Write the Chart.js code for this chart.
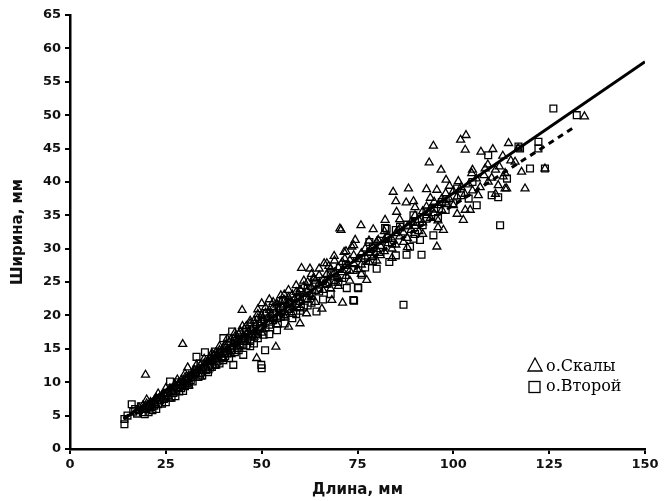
<!DOCTYPE html>
<html>
<head>
<meta charset="utf-8">
<script src="https://cdn.jsdelivr.net/npm/chart.js@4.4.1/dist/chart.umd.min.js"></script>
<style>
  html, body { margin: 0; padding: 0; background: #fff; }
  #wrap { width: 671px; height: 501px; }
</style>
</head>
<body>
<div id="wrap"><canvas id="c" width="671" height="501"></canvas></div>
<script>
const seriesNames = ["о.Скалы", "о.Второй"];

// о.Скалы (triangles), [length, width]
const skalyPoints = [
  [18,6.2],[19,6.5],[19.5,6.0],[19.7,11.1],[20,6.8],[20.5,6.3],[21,7.0],[21.5,6.6],[22,7.3],[22,6.9],
  [22.5,7.6],[23,7.1],[23.5,7.8],[24,7.4],[24,8.0],[24.5,8.3],[25,7.9],[25.5,8.6],[26,8.2],[26,9.0],
  [26.5,8.7],[27,9.3],[27,8.5],[27.5,9.6],[28,9.1],[28.5,9.9],[29,9.4],[29.4,15.7],[29,10.3],[29.5,10.0],
  [30,10.7],[30,9.8],[30.5,10.4],[30.7,12.2],[31,11.0],[31.5,10.6],[32,11.4],[32,10.9],[32.5,11.8],[33,11.2],
  [33.5,12.1],[34,11.7],[34,12.5],[34.5,12.0],[35,12.8],[35.5,12.3],[36,13.2],[36,12.6],[36.5,13.6],[37,13.0],
  [37.5,14.0],[38,13.4],[38,14.4],[38.5,13.8],[39,14.8],[39.5,14.2],[40,15.2],[40,14.5],[40.5,15.6],[41,14.9],
  [41.5,16.0],[42,15.3],[42,16.4],[42.5,15.7],[43,16.8],[43.5,16.1],[44,17.2],[44,16.4],[44.5,17.6],[44.9,20.8],
  [45,16.8],[45.5,18.0],[46,17.2],[46,18.4],[46.5,17.6],[47,18.8],[47.5,18.0],[48,19.2],[48,17.5],[48.5,18.5],
  [48.7,13.6],[49,19.6],[49,20.9],[49.5,18.8],[50,20.0],[50,21.8],[50,18.2],[50.5,19.3],[51,20.4],[51.5,19.6],
  [52,20.8],[52,22.4],[52,18.9],[52.5,20.1],[53,21.2],[53.5,20.4],[53.7,15.3],[53.9,21.8],[54,21.6],[54,19.8],
  [54.5,20.9],[55,22.0],[55.5,21.2],[55.9,23.1],[56,22.3],[56,20.5],[56.5,21.6],[57,22.7],[57,20.8],[57,18.3],
  [57.5,21.9],[58,23.1],[58,21.2],[58.5,22.4],[59,23.5],[59.5,22.7],[59.6,23.3],[60,23.9],[60,22.0],[60,18.8],
  [60.4,27.1],[61,23.2],[61,24.4],[61.7,20.3],[62,23.7],[62,25.0],[62.6,27.0],[63,24.2],[63,22.8],[63.5,25.6],
  [63.7,25.5],[64,25.2],[64,23.6],[65,24.8],[65,26.0],[65.7,21.0],[66,25.3],[66,23.8],[66.3,27.8],[67,26.2],
  [67,24.6],[67.5,27.4],[68,25.8],[68,27.0],[68.3,22.3],[68.9,28.9],[69,26.4],[69,24.9],[70,27.2],[70,25.6],
  [70.4,33.0],[70.7,32.8],[71,26.8],[71,28.0],[71.1,21.9],[71.5,29.5],[71.7,28.5],[72,27.4],[72,25.9],[73,28.3],
  [73,26.7],[73.5,30.3],[74,27.8],[74,29.0],[74.4,31.3],[75,28.4],[75,26.9],[75.9,33.5],[76,29.3],[76,27.6],
  [77,28.8],[77,30.0],[77.4,25.3],[78,29.4],[78,28.0],[78.3,29.8],[79,30.3],[79,28.7],[79.1,32.9],[80,29.9],
  [80,31.0],[80.4,31.3],[81,30.4],[81,29.0],[82,31.3],[82,29.6],[82.2,34.3],[83,30.8],[83,32.0],[84,31.4],
  [84,30.0],[84.3,38.5],[85,32.3],[85,30.6],[85,37.1],[85.2,35.5],[86,31.8],[86,33.0],[87,32.4],[87,31.0],
  [87.7,36.9],[88,33.3],[88,31.6],[88.3,39.0],[89,32.8],[89,34.0],[89.6,37.1],[90,33.4],[90,35.0],[91,34.3],
  [91,32.6],[92,35.6],[92,33.9],[93,35.0],[93,36.3],[93,38.9],[93.7,42.9],[94,34.6],[94,36.0],[94.8,45.4],
  [95,37.0],[95,35.3],[95.7,38.8],[95.7,30.3],[96,36.5],[96,34.2],[96.8,41.8],[97,37.5],[97,35.8],[97.4,32.8],
  [98,36.9],[98,38.3],[98.1,40.3],[99,37.4],[100,38.6],[100,36.5],[101,37.8],[101.3,40.1],[101.9,46.3],[102,39.2],
  [102.6,34.3],[103,38.2],[103.1,44.8],[103.1,35.8],[103.3,47.0],[104,39.6],[104.4,35.8],[104.8,41.3],[105,38.7],[106,40.5],
  [106.5,38.0],[107,39.2],[107.2,44.5],[108,41.0],[108.3,42.0],[109.1,40.0],[110,40.6],[110.3,44.9],[111,41.8],[111.7,39.5],
  [112,42.3],[112.9,43.9],[113,40.8],[113.5,41.3],[113.5,39.0],[113.9,39.0],[114.4,45.8],[115,43.2],[116.1,43.0],[116.9,45.0],
  [117.8,41.5],[118.7,39.0],[123.9,42.0],[134.2,49.8],
  [20,7.4],[21,6.1],[23,8.3],[25,9.1],[26,7.5],[28,10.4],[30,11.3],[31,9.5],[33,12.6],[34,10.8],
  [35,13.5],[36,11.8],[37,14.3],[38,12.5],[39,15.4],[40,13.6],[41,16.5],[42,14.2],[43,17.4],[44,15.2],
  [45,18.4],[46,16.0],[47,19.2],[48,16.8],[49,20.2],[50,17.4],[51,21.2],[52,19.5],[53,22.0],[54,18.6],
  [55,23.0],[56,19.8],[57,23.8],[58,20.2],[59,24.5],[60,21.2],[61,25.2],[62,22.4],[63,26.2],[64,22.0],
  [65,27.0],[66,24.6],[67,27.8],[68,24.0],[69,28.2],[70,24.4],[72,29.6],[73,25.2],[74,30.5],[76,26.2],
  [78,31.2],[80,28.2],[82,32.6],[84,28.6],[86,34.4],[88,30.2],[90,36.2],[92,32.2],[94,37.6],[96,33.2],
  [99,39.4],[101,35.2],[105,41.8],[109,42.6],[111,38.2]
];

// о.Второй (squares), [length, width]
const vtoroyPoints = [
  [14.2,3.7],[14.2,4.5],[15,5.0],[16.1,6.7],[16.5,5.6],[17,6.0],[17.5,5.3],[18,5.8],[18.5,6.4],[19,5.5],
  [19.5,5.2],[20,6.0],[20.5,5.5],[21,6.3],[21.5,5.8],[22,6.5],[22.5,6.0],[23,6.7],[23.5,7.3],[24,6.8],
  [24.5,7.5],[25,7.0],[25.5,8.0],[26.1,10.1],[26.5,7.7],[27,8.4],[27.5,7.9],[28,10.0],[28.5,8.6],[29,9.1],
  [29.5,8.7],[30,9.4],[30.5,9.9],[31,9.6],[31.5,10.3],[32,10.1],[32.5,11.5],[33,13.8],[33.5,10.8],[34,11.3],
  [34.5,11.0],[35.2,14.5],[35.5,11.8],[36,11.5],[36.5,12.2],[37,13.5],[37.8,14.6],[38,12.6],[38.5,13.1],[39,12.8],
  [39.5,13.6],[40,16.6],[40.5,13.9],[41,14.3],[41.5,13.6],[42.3,17.6],[42.6,12.6],[43,14.5],[43.5,15.1],[44,14.8],
  [44.5,15.6],[45.2,14.1],[45.5,16.2],[46,15.5],[46.5,16.8],[47,16.2],[47.5,17.0],[48,15.8],[48.5,17.3],[49,16.6],
  [49.5,18.0],[49.9,12.6],[50,12.1],[50.5,17.1],[50.9,14.8],[51.3,20.3],[52,18.6],[53,19.3],[54,17.8],[55,19.8],
  [55.6,22.3],[56,20.2],[57,21.0],[58,19.6],[59,21.8],[60,20.7],[61.7,22.6],[62,21.5],[63,23.0],[64.3,20.6],
  [65,23.6],[66,22.4],[67,24.8],[68,23.2],[69,25.3],[70.4,27.1],[71,25.6],[72.2,24.1],[73.9,22.3],[74.1,22.2],
  [75.2,24.1],[75.1,24.2],[76.1,26.1],[77,27.2],[78.1,31.0],[78.3,29.5],[79,28.1],[80,27.0],[81,29.5],[82.2,33.1],
  [82.6,33.0],[83.3,28.0],[84,30.8],[85,29.0],[86.1,33.3],[87,21.6],[87.8,29.1],[88.7,30.3],[89.6,31.5],[89.6,35.0],
  [90,32.2],[91.3,31.3],[91.7,29.1],[92,33.5],[93,34.5],[94.8,32.0],[95,36.0],[96,34.6],[97,37.0],[98,35.8],
  [100,36.8],[102,38.0],[104,37.5],[106.1,36.5],[109.1,44.0],[110,38.0],[111.7,37.7],[112.2,33.5],[114,40.5],[117,45.3],
  [117.4,45.0],[120,42.0],[122.2,46.0],[122.2,45.0],[123.9,42.0],[126.1,51.0],[132.2,50.0],
  [27,9.2],[29,9.8],[31,10.9],[33,11.9],[34,12.8],[36,13.1],[37,12.3],[38,14.0],[39,14.3],[40,13.3],
  [41,15.5],[42,14.8],[43,16.2],[44,16.5],[45,15.6],[46,17.5],[47,15.4],[48,18.0],[49,17.2],[50,19.0],
  [51,18.2],[52,17.2],[53,20.4],[54,19.6],[55,21.2],[56,18.8],[57,22.0],[58,21.8],[59,20.2],[60,22.8],
  [61,21.2],[62,24.0],[63,21.9],[64,24.8],[66,25.2],[68,26.4],[70,25.0],[72,27.6],[74,26.8],[76,28.6],
  [79,30.2],[81,31.2],[83,31.6],[85,32.8],[88,33.6],[90,34.0],[93,35.6],[98,37.4],[101,39.0],[105,40.0]
];

// regression lines: [length, width] end points
const skalyLine = [[14,4.5],[150,58.0]];
const vtoroyLine = [[14,4.6],[131,48.0]];

const xTicks = [0, 25, 50, 75, 100, 125, 150];
const yTicks = [0, 5, 10, 15, 20, 25, 30, 35, 40, 45, 50, 55, 60, 65];

const toXY = arr => arr.map(p => ({ x: p[0], y: p[1] }));

const tickFont = { family: "DejaVu Sans", weight: "bold", size: 13 };
const titleFont = { family: "DejaVu Sans", weight: "bold", size: 15 };

// legend drawn inside the plot, bottom right
const legendPlugin = {
  id: "insideLegend",
  afterDraw(chart) {
    const ctx = chart.ctx;
    ctx.save();
    ctx.strokeStyle = "#000";
    ctx.lineWidth = 1.3;
    // triangle
    ctx.beginPath();
    ctx.moveTo(535, 358);
    ctx.lineTo(542, 371);
    ctx.lineTo(528, 371);
    ctx.closePath();
    ctx.stroke();
    // square
    ctx.strokeRect(529, 381.5, 11, 11);
    ctx.fillStyle = "#000";
    ctx.font = '16px "DejaVu Serif"';
    ctx.textBaseline = "alphabetic";
    ctx.fillText(seriesNames[0], 546, 371);
    ctx.fillText(seriesNames[1], 546, 391);
    ctx.restore();
  }
};

const config = {
  type: "scatter",
  data: {
    datasets: [
      {
        label: seriesNames[0] + " line",
        data: toXY(skalyLine),
        showLine: true,
        borderColor: "#000",
        borderWidth: 3,
        pointRadius: 0,
        order: 0
      },
      {
        label: seriesNames[1] + " line",
        data: toXY(vtoroyLine),
        showLine: true,
        borderColor: "#000",
        borderWidth: 3,
        borderDash: [6, 5],
        pointRadius: 0,
        order: 1
      },
      {
        label: seriesNames[0],
        data: toXY(skalyPoints),
        pointStyle: "triangle",
        pointRadius: 4.6,
        pointBorderWidth: 1.3,
        borderColor: "#000",
        backgroundColor: "rgba(0,0,0,0)",
        order: 2
      },
      {
        label: seriesNames[1],
        data: toXY(vtoroyPoints),
        pointStyle: "rect",
        pointRadius: 4.8,
        pointBorderWidth: 1.3,
        borderColor: "#000",
        backgroundColor: "rgba(0,0,0,0)",
        order: 3
      }
    ]
  },
  options: {
    responsive: false,
    animation: false,
    layout: { padding: { left: 0, right: 26, top: 15, bottom: 0 } },
    plugins: {
      legend: { display: false },
      tooltip: { enabled: false }
    },
    scales: {
      x: {
        type: "linear",
        min: 0,
        max: 150,
        afterBuildTicks: s => { s.ticks = xTicks.map(v => ({ value: v })); },
        afterFit: s => { s.height = 52; },
        grid: { drawOnChartArea: false, drawTicks: true, tickLength: 5, color: "#000", lineWidth: 2 },
        border: { display: true, color: "#000", width: 2.5 },
        ticks: { font: tickFont, color: "#111", padding: 3, maxRotation: 0 },
        title: { display: true, text: "Длина, мм", font: titleFont, color: "#111", padding: { top: 0, bottom: 2 } }
      },
      y: {
        type: "linear",
        min: 0,
        max: 65,
        afterBuildTicks: s => { s.ticks = yTicks.map(v => ({ value: v })); },
        afterFit: s => { s.width = 70; },
        grid: { drawOnChartArea: false, drawTicks: true, tickLength: 5, color: "#000", lineWidth: 2 },
        border: { display: true, color: "#000", width: 2.5 },
        ticks: { font: tickFont, color: "#111", padding: 4 },
        title: { display: true, text: "Ширина, мм", font: titleFont, color: "#111", padding: { top: 9, bottom: 0 } }
      }
    }
  },
  plugins: [legendPlugin]
};

new Chart(document.getElementById("c").getContext("2d"), config);
</script>
</body>
</html>
